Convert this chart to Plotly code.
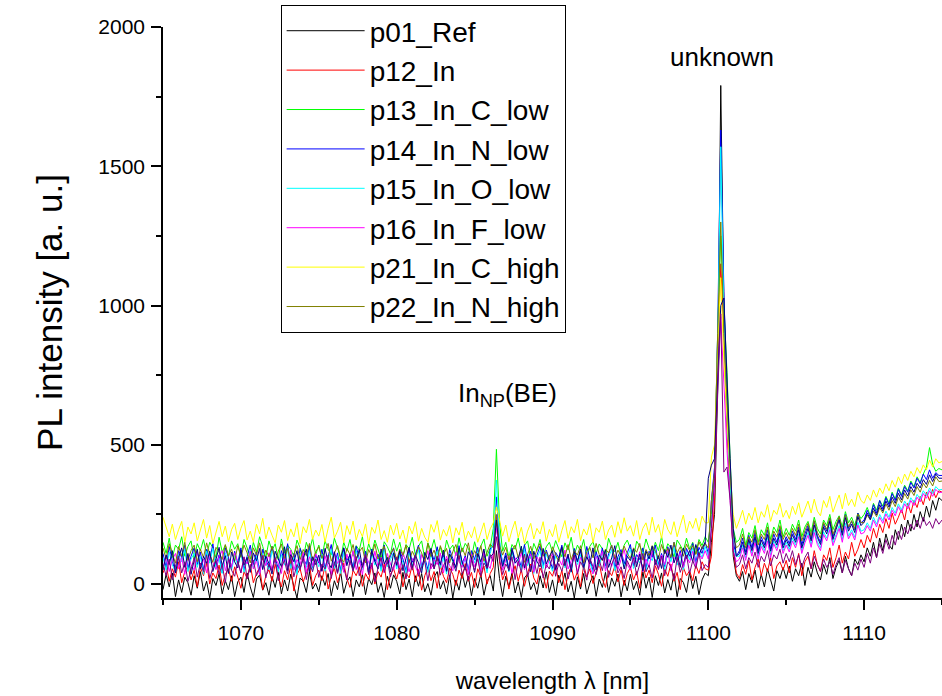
import numpy as np
import plotly.graph_objects as go

# wavelength grid (nm), 0.2 nm sampling
wavelength = np.round(np.arange(1065.0, 1115.0001, 0.2), 1)

p01_ref = [
 -20, 35, -10, 40, -45, 15, -30, 25, 5, -40, 30, -15, 45, -25, 10, -50, 20, -5, 38, -35, 12, -20, 30, -45, 8,
 25, -30, 40, -10, -48, 18, 33, -22, 5, -40, 28, -12, 42, -35, 15, -25, 36, -8, -50, 22, 10, -30, 44, -18, 3,
 -28, 30, -5, 38, -42, 12, -20, 45, -33, 8, 26, -45, 15, -10, 35, -38, 20, -2, 40, -30, 5, -48, 28, -15, 33,
 10, -35, 42, -20, 18, -46, 30, -8, 38, -28, 2, -40, 25, 45, -18, 12, -36, 32, -50, 15, -22, 40, -12, 28, -42,
 20, -15, 35, -40, 12, 30, -25, 120, 20, -45, 28, -10, 40, -32, 8, -48, 22, 36, -20, 5, -38, 30, -14, 44, -30,
 15, -42, 32, -6, 40, -28, 10, -50, 26, -18, 38, -35, 4, 30, -44, 18, -12, 42, -30, 22, -8, 36, -46, 14, -24,
 35, -20, 10, -40, 44, -15, 25, -48, 30, -5, 40, -32, 16, -22, 38, -45, 20, 6, -30, 42, -16, 28, -38, 15, 40,
 30, 150, 250, 700, 1790, 1000, 600, 350, 100, 30, 10, 45, -20, 38, 5, 50, -15, 35, -10, 55, 12, -25, 48, 20, 60,
 20, 65, 10, 55, 30, 75, -5, 60, 25, 80, 40, 15, 70, 35, 95, 20, 60, 85, 40, 100, 55, 30, 90, 70, 105,
 80, 130, 100, 150, 95, 165, 120, 180, 140, 125, 195, 160, 215, 170, 230, 190, 250, 205, 260, 225, 280, 240, 300, 265, 310,
 300]

p12_in = [
 40, 70, 10, 55, 25, 80, 5, 45, 65, 15, 50, -10, 60, 30, 75, 0, 40, 20, 68, -5, 35, 55, 10, 62, 25,
 -15, 45, 20, 70, 5, 38, 60, -20, 30, 52, 10, 72, 25, -10, 48, 15, 65, -25, 35, 55, 8, 40, 70, -5, 30,
 50, 12, 66, -18, 28, 58, 5, 44, 75, 20, -12, 50, 30, 62, -8, 38, 15, 68, 0, 45, 25, 72, -20, 35, 55,
 18, 64, -10, 40, 22, 70, 8, 52, -22, 30, 60, 12, 45, -15, 68, 28, 5, 58, 35, -5, 50, 20, 74, 10, 42,
 -12, 55, 25, 65, 0, 38, 60, 240, 80, 15, 48, -18, 30, 66, 10, 52, -8, 40, 72, 22, 0, 58, 32, -15, 46,
 28, 70, 5, 50, -20, 36, 62, 14, 44, -10, 68, 25, 55, 2, 40, 75, 18, -12, 48, 30, 65, 8, 52, -5, 38,
 60, 15, 45, -15, 70, 22, 50, 5, 66, 35, -8, 55, 28, 72, 10, 42, -20, 60, 30, 48, 12, 68, 38, 80, 55,
 50, 100, 300, 800, 1150, 900, 550, 350, 120, 40, 20, 70, 35, 85, 15, 60, 90, 30, 75, 45, 95, 20, 65, 80, 50,
 85, 40, 95, 60, 110, 30, 80, 100, 55, 120, 70, 45, 105, 85, 130, 60, 95, 140, 75, 115, 90, 150, 100, 125, 160,
 130, 175, 150, 200, 165, 215, 185, 235, 200, 255, 215, 240, 270, 230, 290, 255, 300, 275, 315, 285, 330, 300, 340, 310, 335,
 330]

p13_in_c_low = [
 150, 110, 165, 95, 140, 125, 170, 100, 135, 155, 90, 145, 120, 160, 105, 150, 130, 95, 168, 115, 140, 100, 155, 125, 145,
 100, 160, 130, 90, 150, 115, 170, 135, 95, 155, 120, 145, 88, 162, 110, 140, 125, 100, 158, 130, 92, 150, 118, 165, 105,
 140, 95, 155, 125, 105, 165, 130, 90, 150, 118, 160, 100, 138, 122, 170, 96, 145, 112, 158, 128, 92, 152, 134, 108, 162,
 118, 150, 98, 142, 126, 168, 104, 136, 155, 90, 148, 120, 160, 110, 132, 95, 158, 124, 140, 102, 166, 116, 146, 128, 94,
 152, 110, 138, 162, 100, 130, 200, 484, 220, 118, 150, 96, 142, 125, 165, 108, 138, 155, 92, 146, 120, 160, 104, 134, 150,
 114, 156, 130, 98, 148, 122, 168, 106, 140, 118, 160, 94, 136, 152, 110, 144, 126, 100, 164, 132, 116, 150, 102, 140, 158,
 124, 96, 154, 136, 112, 162, 128, 104, 150, 120, 170, 110, 145, 130, 98, 158, 140, 118, 165, 126, 150, 108, 160, 138, 170,
 150, 250, 400, 900, 1250, 1000, 760, 450, 200, 150, 160, 200, 140, 185, 165, 210, 150, 195, 175, 220, 160, 205, 185, 230, 170,
 200, 175, 215, 190, 230, 170, 205, 225, 185, 240, 200, 180, 230, 210, 250, 195, 225, 245, 205, 260, 220, 240, 210, 255, 235,
 250, 275, 245, 290, 265, 300, 280, 315, 290, 330, 305, 345, 320, 355, 335, 370, 350, 385, 365, 395, 420, 490, 430, 405, 415,
 410]

p14_in_n_low = [
 110, 60, 135, 80, 45, 120, 95, 140, 55, 100, 130, 70, 115, 50, 125, 85, 145, 65, 105, 40, 130, 90, 60, 118, 75,
 130, 50, 100, 140, 70, 115, 45, 125, 88, 60, 135, 95, 55, 120, 80, 145, 65, 110, 42, 128, 92, 70, 138, 58, 105,
 75, 125, 55, 98, 142, 66, 112, 48, 130, 85, 104, 58, 136, 90, 62, 118, 44, 126, 80, 108, 56, 140, 72, 100, 130,
 64, 118, 90, 46, 128, 78, 105, 140, 60, 96, 52, 122, 84, 134, 68, 110, 45, 124, 92, 58, 138, 74, 102, 50, 120,
 88, 132, 62, 108, 48, 126, 140, 313, 150, 70, 112, 54, 130, 86, 100, 60, 142, 78, 118, 46, 104, 136, 66, 122, 90,
 56, 114, 94, 140, 68, 102, 50, 128, 82, 120, 60, 135, 90, 48, 116, 76, 130, 64, 108, 140, 58, 98, 124, 72, 112,
 142, 66, 106, 88, 130, 54, 118, 96, 140, 70, 110, 62, 134, 92, 150, 80, 120, 58, 128, 100, 146, 76, 132, 110, 150,
 110, 300, 420, 900, 1630, 1050, 650, 380, 150, 100, 120, 165, 115, 175, 130, 185, 120, 170, 140, 195, 125, 180, 150, 200, 140,
 170, 145, 190, 160, 205, 140, 180, 210, 165, 225, 175, 150, 215, 190, 235, 170, 205, 240, 185, 250, 200, 225, 195, 255, 220,
 230, 265, 240, 285, 255, 300, 270, 310, 285, 325, 300, 340, 315, 350, 330, 365, 345, 380, 360, 395, 375, 410, 380, 400, 390,
 390]

p15_in_o_low = [
 95, 50, 115, 70, 40, 105, 80, 125, 45, 90, 110, 60, 100, 35, 118, 75, 128, 55, 92, 38, 112, 78, 50, 104, 66,
 114, 42, 88, 122, 58, 100, 36, 110, 76, 52, 120, 82, 44, 106, 68, 126, 56, 96, 34, 112, 80, 60, 120, 48, 92,
 62, 108, 46, 86, 124, 56, 98, 38, 116, 72, 92, 48, 120, 78, 52, 104, 36, 110, 68, 96, 46, 124, 62, 88, 114,
 54, 104, 78, 38, 112, 66, 92, 124, 50, 84, 42, 108, 72, 118, 58, 96, 36, 110, 80, 48, 122, 64, 90, 40, 106,
 76, 116, 52, 94, 40, 110, 150, 373, 160, 60, 98, 44, 114, 74, 88, 50, 126, 66, 104, 38, 92, 120, 56, 108, 78,
 46, 100, 82, 124, 58, 90, 42, 112, 70, 106, 52, 118, 78, 40, 102, 64, 114, 54, 96, 124, 48, 86, 110, 62, 98,
 126, 56, 94, 76, 116, 46, 104, 84, 124, 60, 98, 52, 118, 80, 132, 68, 106, 50, 114, 88, 130, 66, 118, 96, 135,
 100, 200, 380, 850, 1570, 950, 600, 350, 130, 100, 100, 140, 95, 150, 110, 160, 100, 145, 120, 170, 105, 155, 130, 175, 120,
 150, 125, 165, 140, 180, 120, 158, 185, 142, 195, 152, 130, 188, 165, 205, 148, 178, 210, 160, 218, 172, 195, 168, 222, 190,
 195, 220, 200, 240, 215, 250, 228, 262, 240, 275, 255, 288, 266, 298, 280, 310, 292, 322, 305, 335, 318, 345, 325, 350, 338,
 340]

p16_in_f_low = [
 60, 100, 45, 88, 110, 55, 95, 35, 105, 70, 50, 115, 65, 90, 40, 108, 78, 52, 98, 120, 48, 85, 62, 112, 80,
 40, 96, 72, 118, 54, 86, 32, 104, 66, 112, 48, 92, 74, 38, 108, 60, 122, 50, 88, 70, 114, 42, 98, 64, 110,
 84, 46, 102, 60, 36, 116, 74, 94, 42, 108, 68, 120, 52, 90, 34, 104, 78, 56, 118, 62, 96, 40, 110, 72, 50,
 98, 58, 114, 76, 44, 92, 64, 36, 106, 80, 120, 54, 88, 70, 112, 40, 100, 66, 48, 116, 82, 60, 96, 34, 108,
 62, 90, 44, 118, 72, 56, 110, 200, 120, 50, 86, 102, 38, 94, 66, 116, 52, 80, 108, 42, 98, 74, 120, 58, 88,
 110, 48, 92, 68, 122, 54, 84, 104, 40, 96, 72, 114, 58, 36, 100, 80, 118, 46, 90, 64, 106, 52, 88, 124, 70,
 50, 98, 76, 116, 44, 90, 62, 120, 80, 56, 104, 70, 124, 48, 96, 84, 112, 60, 100, 76, 118, 66, 108, 90, 120,
 90, 200, 350, 750, 960, 700, 480, 300, 120, 80, 90, 130, 85, 140, 100, 150, 90, 135, 110, 155, 95, 145, 120, 160, 110,
 140, 115, 155, 130, 170, 110, 148, 175, 132, 185, 142, 120, 178, 155, 195, 138, 168, 200, 150, 208, 162, 185, 158, 212, 180,
 185, 210, 190, 230, 205, 240, 218, 252, 230, 265, 245, 278, 256, 288, 270, 300, 282, 312, 295, 325, 308, 335, 315, 340, 328,
 330]

p21_in_c_high = [
 240, 200, 170, 215, 160, 195, 225, 150, 205, 180, 220, 155, 198, 232, 165, 210, 145, 190, 225, 170, 208, 152, 195, 218, 160,
 200, 228, 158, 190, 150, 215, 180, 236, 162, 205, 175, 148, 212, 186, 228, 156, 198, 170, 220, 145, 206, 184, 232, 160, 194,
 172, 214, 150, 200, 240, 165, 190, 222, 148, 210, 178, 226, 158, 196, 170, 216, 144, 204, 182, 230, 160, 192, 150, 212, 176,
 218, 162, 194, 146, 208, 180, 224, 154, 200, 168, 150, 214, 186, 228, 158, 196, 172, 210, 148, 202, 176, 222, 156, 190, 166,
 206, 150, 188, 220, 160, 198, 220, 277, 230, 172, 212, 152, 194, 226, 166, 204, 146, 190, 218, 162, 200, 180, 224, 154, 196,
 170, 214, 150, 192, 228, 164, 206, 184, 232, 156, 198, 176, 218, 148, 202, 186, 226, 160, 194, 212, 168, 224, 182, 238, 190,
 210, 172, 228, 160, 200, 220, 176, 240, 186, 214, 164, 232, 196, 178, 224, 170, 210, 248, 184, 226, 200, 236, 190, 244, 220,
 220, 456, 500, 850, 1100, 800, 600, 400, 250, 200, 230, 265, 215, 255, 230, 275, 220, 260, 240, 285, 225, 265, 250, 290, 240,
 265, 235, 280, 250, 292, 240, 270, 298, 255, 305, 262, 245, 300, 275, 315, 258, 290, 320, 270, 326, 282, 305, 278, 330, 300,
 290, 320, 300, 338, 312, 345, 325, 360, 335, 372, 348, 385, 360, 395, 372, 405, 385, 418, 398, 428, 410, 445, 420, 450, 435,
 440]

p22_in_n_high = [
 130, 90, 145, 110, 75, 135, 100, 150, 85, 120, 140, 80, 125, 95, 148, 105, 78, 132, 115, 88, 142, 100, 126, 82, 138,
 96, 140, 112, 76, 130, 104, 148, 86, 122, 98, 136, 80, 118, 144, 92, 128, 74, 110, 138, 88, 124, 102, 146, 84, 116,
 134, 92, 120, 146, 82, 112, 138, 96, 78, 128, 106, 142, 88, 116, 132, 76, 124, 100, 144, 90, 114, 136, 80, 108, 128,
 86, 126, 104, 140, 78, 118, 94, 134, 112, 80, 146, 98, 122, 84, 138, 106, 128, 76, 116, 142, 92, 130, 102, 148, 88,
 120, 96, 138, 82, 114, 144, 130, 250, 140, 104, 132, 86, 118, 140, 94, 126, 78, 110, 136, 90, 124, 146, 100, 116, 84,
 134, 108, 80, 128, 98, 142, 88, 120, 104, 138, 76, 116, 132, 94, 146, 106, 84, 126, 112, 140, 90, 122, 100, 136, 110,
 92, 130, 114, 146, 86, 124, 102, 138, 118, 90, 142, 108, 128, 96, 150, 112, 134, 100, 144, 120, 138, 106, 152, 126, 145,
 130, 300, 400, 900, 1300, 900, 650, 400, 180, 130, 140, 180, 130, 170, 150, 195, 140, 180, 160, 205, 145, 190, 170, 210, 160,
 185, 160, 200, 175, 215, 155, 192, 218, 170, 228, 186, 165, 222, 196, 238, 178, 210, 242, 190, 248, 205, 228, 198, 252, 220,
 222, 248, 230, 262, 242, 275, 255, 288, 265, 300, 278, 312, 292, 325, 305, 338, 318, 350, 330, 362, 345, 372, 352, 385, 368,
 370]

# two further spectra drawn in the plot but not listed in the legend
extra_navy = [
 50, 105, 70, 120, 40, 95, 130, 60, 110, 35, 85, 125, 55, 100, 75, 118, 45, 90, 132, 65, 102, 38, 115, 80, 58,
 122, 68, 96, 42, 112, 84, 128, 52, 100, 74, 36, 118, 90, 62, 134, 48, 106, 80, 120, 56, 92, 126, 44, 98, 70,
 104, 46, 128, 78, 58, 116, 40, 94, 130, 66, 108, 50, 86, 124, 60, 100, 38, 118, 82, 54, 126, 72, 96, 44, 112,
 68, 120, 48, 92, 132, 58, 104, 76, 40, 114, 88, 128, 54, 98, 70, 122, 46, 108, 84, 60, 130, 78, 50, 116, 94,
 42, 110, 80, 126, 56, 96, 110, 230, 120, 64, 102, 48, 124, 76, 90, 136, 58, 106, 44, 118, 82, 62, 128, 72, 100,
 120, 52, 92, 134, 66, 108, 44, 116, 80, 126, 58, 98, 72, 130, 50, 104, 86, 122, 60, 94, 138, 68, 112, 54, 100,
 84, 126, 62, 108, 46, 118, 90, 136, 70, 102, 56, 124, 96, 140, 76, 112, 60, 130, 92, 120, 80, 142, 104, 130, 150,
 380, 427, 450, 700, 1000, 1027, 700, 450, 200, 100, 110, 150, 105, 160, 120, 170, 110, 158, 130, 178, 118, 165, 140, 185, 130,
 160, 135, 178, 150, 195, 130, 170, 200, 155, 212, 168, 142, 205, 180, 225, 160, 196, 230, 175, 238, 190, 215, 185, 242, 210,
 222, 255, 232, 272, 248, 285, 262, 298, 276, 312, 290, 326, 302, 338, 316, 350, 330, 362, 345, 375, 358, 392, 368, 395, 380,
 380]

extra_purple = [
 70, 30, 90, 15, 65, 100, 40, 80, 10, 55, 95, 25, 75, 45, 105, 20, 60, 88, 35, 70, 5, 92, 50, 28, 82,
 40, 98, 18, 66, 86, 30, 58, 102, 22, 74, 48, 94, 12, 62, 84, 36, 100, 26, 70, 52, 96, 16, 78, 44, 90,
 24, 72, 54, 104, 20, 80, 38, 92, 60, 14, 86, 46, 98, 30, 68, 106, 34, 76, 8, 58, 94, 42, 84, 26, 64,
 96, 36, 70, 18, 88, 50, 104, 28, 62, 82, 12, 74, 56, 100, 32, 66, 90, 20, 78, 46, 102, 38, 60, 14, 86,
 48, 92, 30, 76, 58, 106, 80, 170, 90, 34, 72, 52, 98, 16, 84, 42, 108, 26, 64, 88, 38, 96, 22, 70, 54,
 100, 28, 74, 46, 90, 18, 66, 104, 36, 80, 56, 14, 92, 60, 34, 86, 48, 108, 24, 72, 96, 40, 62, 20, 84,
 58, 94, 32, 76, 110, 44, 68, 22, 88, 52, 100, 30, 80, 62, 16, 96, 42, 74, 104, 38, 84, 56, 112, 48, 70,
 60, 200, 380, 700, 970, 402, 420, 300, 120, 60, 70, 105, 55, 95, 75, 115, 60, 100, 80, 120, 65, 105, 90, 125, 75,
 110, 80, 120, 70, 105, 60, 95, 115, 55, 100, 70, 45, 90, 60, 80, 35, 70, 95, 40, 85, 55, 30, 75, 50, 90,
 60, 110, 75, 130, 95, 145, 110, 160, 125, 175, 140, 190, 160, 205, 180, 215, 195, 230, 200, 240, 210, 225, 200, 235, 215,
 230]

series_names = ["p01_Ref", "p12_In", "p13_In_C_low", "p14_In_N_low", "p15_In_O_low",
                "p16_In_F_low", "p21_In_C_high", "p22_In_N_high", "series 9", "series 10"]
series_in_legend = [True, True, True, True, True, True, True, True, False, False]
series_values = [p01_ref, p12_in, p13_in_c_low, p14_in_n_low, p15_in_o_low,
                 p16_in_f_low, p21_in_c_high, p22_in_n_high, extra_navy, extra_purple]
series_colors = ["#000000", "#FF0000", "#00FF00", "#0000FF", "#00FFFF",
                 "#FF00FF", "#FFFF00", "#808000", "#000080", "#800080"]

for nm, v in zip(series_names, series_values):
    assert len(v) == len(wavelength), (nm, len(v))

FONT = "Liberation Sans, Arial, sans-serif"

fig = go.Figure()
for i, (nm, vals, col, inleg) in enumerate(zip(series_names, series_values, series_colors, series_in_legend)):
    fig.add_trace(go.Scatter(
        x=wavelength, y=vals, mode="lines", name=nm,
        line=dict(color=col, width=1),
        showlegend=inleg, legendgroup="g%d" % i,
    ))

fig.add_annotation(x=1100.9, y=1892, text="unknown", showarrow=False,
                   font=dict(family=FONT, size=26, color="black"))
fig.add_annotation(x=1087.1, y=680, text="In<sub>NP</sub>(BE)", showarrow=False,
                   font=dict(family=FONT, size=26, color="black"))

fig.update_layout(
    width=942, height=696,
    margin=dict(l=163, r=0, t=27, b=98, autoexpand=False),
    paper_bgcolor="white", plot_bgcolor="white",
    font=dict(family=FONT, color="black"),
    legend=dict(
        x=0.151, y=1.0385, xanchor="left", yanchor="top",
        bgcolor="white", bordercolor="black", borderwidth=1,
        font=dict(family=FONT, size=28, color="black"),
        tracegroupgap=0, itemwidth=78,
    ),
    xaxis=dict(
        range=[1065, 1115], showgrid=False, zeroline=False, automargin=False,
        showline=True, linecolor="black", linewidth=1.5,
        ticks="outside", tickcolor="black", ticklen=10, tickwidth=1.5,
        dtick=10, tick0=1070,
        minor=dict(ticks="outside", ticklen=5, tickcolor="black", tickwidth=1.5, dtick=5, tick0=1065),
        tickfont=dict(family=FONT, size=21, color="black"),
        ticklabelstandoff=5,
        title=dict(text="wavelength λ [nm]", font=dict(family=FONT, size=24, color="black"), standoff=29),
    ),
    yaxis=dict(
        range=[-50, 2000], showgrid=False, zeroline=False, automargin=False,
        showline=True, linecolor="black", linewidth=1.5,
        ticks="outside", tickcolor="black", ticklen=10, tickwidth=1.5,
        dtick=500, tick0=0,
        minor=dict(ticks="outside", ticklen=5, tickcolor="black", tickwidth=1.5, dtick=250, tick0=0),
        tickfont=dict(family=FONT, size=21, color="black"),
        ticklabelstandoff=2,
        title=dict(text="PL intensity [a. u.]", font=dict(family=FONT, size=35, color="black"), standoff=25),
    ),
)

# the page's default 8 px body margin would shift the figure; remove it
fig.write_html("out.html", config={"displayModeBar": False},
               post_script="document.body.style.margin='0';document.body.style.padding='0';")
